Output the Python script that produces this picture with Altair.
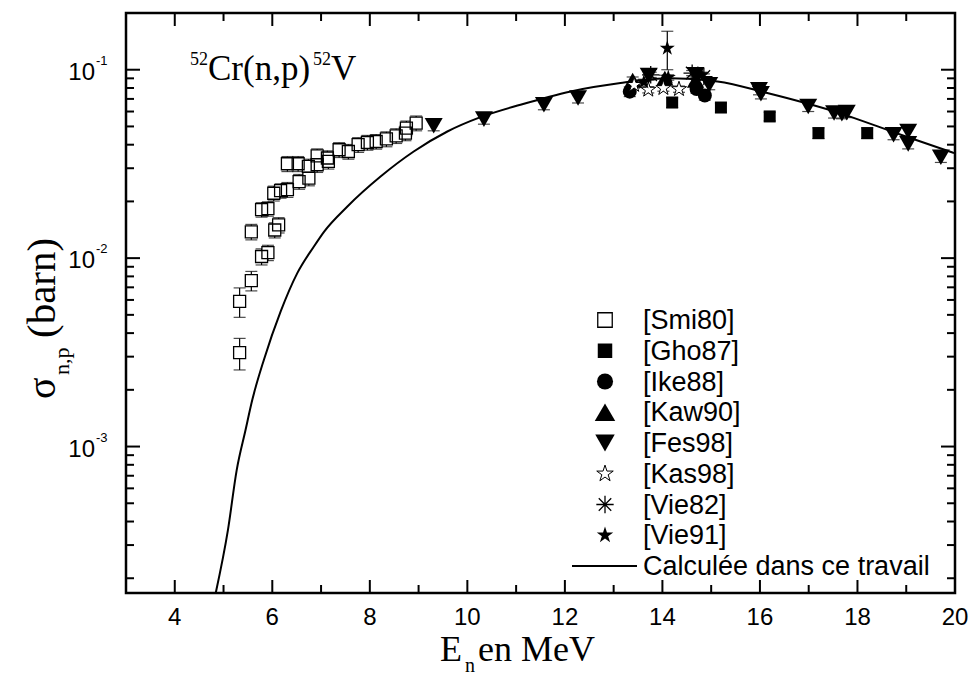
import altair as alt
import pandas as pd

# ---------------- data ----------------
smi_E = [5.33, 5.33, 5.57, 5.78, 5.91, 5.57, 6.05, 6.13, 5.78, 5.91, 6.03, 6.17, 6.31, 6.55, 6.75, 6.31,
         6.53, 6.74, 6.92, 6.92, 7.13, 7.15, 7.37, 7.56, 7.76, 7.95, 8.13, 8.34, 8.54, 8.73, 8.75, 8.95]
smi_S = [0.00315, 0.0059, 0.0076, 0.0102, 0.0107, 0.0138, 0.0141, 0.0150, 0.0181, 0.0183, 0.0221, 0.0228,
         0.0231, 0.0255, 0.0266, 0.0317, 0.0317, 0.0307, 0.0349, 0.0313, 0.0340, 0.0326, 0.0376, 0.0368,
         0.0400, 0.0411, 0.0416, 0.0429, 0.0446, 0.0461, 0.0490, 0.0521]
smi_err = [0.0006, 0.00105, 0.0009, 0.0010, 0.0010, 0.0013, 0.0013, 0.0014, 0.0016, 0.0016, 0.0020, 0.0020,
           0.0021, 0.0023, 0.0024, 0.0029, 0.0029, 0.0028, 0.0031, 0.0028, 0.0031, 0.0029, 0.0034, 0.0033,
           0.0036, 0.0037, 0.0037, 0.0039, 0.0040, 0.0041, 0.0044, 0.0047]

gho_E = [14.2, 15.2, 16.2, 17.2, 18.2]
gho_S = [0.0670, 0.0630, 0.0565, 0.0461, 0.0461]
gho_err = [0.0040, 0.0035, 0.0030, 0.0030, 0.0030]

ike_E = [13.33, 14.70, 14.87]
ike_S = [0.0765, 0.0790, 0.0730]
ike_err = [0.0045, 0.0040, 0.0040]

kaw_E = [13.39, 14.05, 14.68]
kaw_S = [0.0880, 0.0900, 0.0880]
kaw_err = [0.0035, 0.0035, 0.0035]

fes_E = [9.31, 10.34, 11.57, 12.27, 13.72, 14.68, 14.96, 15.98, 16.02, 16.99, 17.52, 17.68, 17.78,
         18.74, 19.04, 19.04, 19.71]
fes_S = [0.0504, 0.0547, 0.0652, 0.0708, 0.0930, 0.0940, 0.0833, 0.0783, 0.0745, 0.0638, 0.0589, 0.0584,
         0.0592, 0.0452, 0.0470, 0.0404, 0.0343]
fes_err = [0.0030, 0.0033, 0.0039, 0.0042, 0.0050, 0.0050, 0.0050, 0.0047, 0.0045, 0.0038, 0.0035, 0.0035,
           0.0035, 0.0027, 0.0028, 0.0024, 0.0021]

kas_E = [13.42, 13.71, 14.02, 14.34]
kas_S = [0.0830, 0.0783, 0.0799, 0.0789]
kas_err = [0.0030, 0.0030, 0.0030, 0.0030]

v82_E = [13.76, 14.61, 14.85]
v82_S = [0.0940, 0.0960, 0.0920]
v82_err = [0.0030, 0.0030, 0.0030]

v91_E = [13.62, 14.10, 14.12, 14.80]
v91_S = [0.0860, 0.1300, 0.0910, 0.0940]
v91_err = [0.0030, 0.0300, 0.0030, 0.0030]

calc_E = [4.84, 5.09, 5.27, 5.45, 5.59, 5.83, 6.17, 6.51, 6.85, 7.06, 7.54, 8.22, 8.90, 9.59,
          10.27, 11.09, 12.12, 13.14, 14.17, 15.13, 16.15, 17.52, 18.89, 19.98]
calc_S = [1.67e-4, 3.6e-4, 7.5e-4, 1.22e-3, 1.77e-3, 2.9e-3, 5.2e-3, 8.3e-3, 1.15e-2, 1.38e-2,
          1.88e-2, 2.71e-2, 3.68e-2, 4.70e-2, 5.6e-2, 6.52e-2, 7.67e-2, 8.50e-2, 9.0e-2, 8.67e-2, 7.52e-2,
          6.01e-2, 4.52e-2, 3.61e-2]

series_names = ["[Smi80]", "[Gho87]", "[Ike88]", "[Kaw90]", "[Fes98]", "[Kas98]", "[Vie82]", "[Vie91]"]
curve_name = "Calculée dans ce travail"

x_tick_major = [4, 6, 8, 10, 12, 14, 16, 18]
x_tick_minor = [5, 7, 9, 11, 13, 15, 17, 19]
x_tick_labels = [4, 6, 8, 10, 12, 14, 16, 18, 20]
y_tick_major = [1e-3, 1e-2, 1e-1]
y_tick_sup = ["-3", "-2", "-1"]
y_tick_minor = [m * 10.0 ** e for e in (-4, -3, -2) for m in range(2, 10)]

# ---------------- layout ----------------
W, H = 829, 580
SANS = "Liberation Sans"
SERIF = "Liberation Serif"
xs = alt.Scale(domain=[3, 20], nice=False, zero=False)
ys = alt.Scale(type="log", domain=[1.67e-4, 0.2], nice=False)

STAR = ("M0,-1L0.2245,-0.309L0.951,-0.309L0.363,0.118L0.588,0.809L0,0.382L-0.588,0.809"
        "L-0.363,0.118L-0.951,-0.309L-0.2245,-0.309Z")
ASTER = "M0,-1L0,1M-1,0L1,0M-0.72,-0.72L0.72,0.72M-0.72,0.72L0.72,-0.72"
VBAR = "M0,-1L0,1"
HBAR = "M-1,0L1,0"


def X(f="E"):
    return alt.X(f"{f}:Q", scale=xs, axis=None)


def Y(f="S"):
    return alt.Y(f"{f}:Q", scale=ys, axis=None)


def df(E, S, err=None):
    d = pd.DataFrame({"E": E, "S": S})
    if err is not None:
        d["lo"] = [s - e for s, e in zip(S, err)]
        d["hi"] = [s + e for s, e in zip(S, err)]
    return d


layers = []

# calculated curve
layers.append(alt.Chart(df(calc_E, calc_S)).mark_line(color="black", strokeWidth=2,
                                                          interpolate="monotone").encode(x=X(), y=Y()))

all_series = [
    (smi_E, smi_S, smi_err), (gho_E, gho_S, gho_err), (ike_E, ike_S, ike_err), (kaw_E, kaw_S, kaw_err),
    (fes_E, fes_S, fes_err), (kas_E, kas_S, kas_err), (v82_E, v82_S, v82_err), (v91_E, v91_S, v91_err),
]

# error bars
for E, S, err in all_series:
    d = df(E, S, err)
    base = alt.Chart(d)
    layers.append(base.mark_rule(color="black", strokeWidth=1.2).encode(x=X(), y=Y("lo"), y2="hi:Q"))
    layers.append(base.mark_tick(orient="horizontal", size=12, thickness=1.2, color="black")
                  .encode(x=X(), y=Y("lo")))
    layers.append(base.mark_tick(orient="horizontal", size=12, thickness=1.2, color="black")
                  .encode(x=X(), y=Y("hi")))

# marker styles: (shape, kind, data size, legend size)
styles = [
    ("square", "open", 144, 210),
    ("square", "fill", 144, 210),
    ("circle", "fill", 196, 260),
    ("triangle-up", "fill", 300, 420),
    ("triangle-down", "fill", 324, 380),
    (STAR, "openstar", 250, 300),
    (ASTER, "stroke", 300, 300),
    (STAR, "fill", 250, 300),
]


def point_mark(shape, kind, size):
    if kind == "open":
        return [dict(shape=shape, filled=True, fill="white", size=size),
                dict(shape=shape, filled=False, color="black", strokeWidth=1.3, size=size)]
    if kind == "openstar":
        return [dict(shape=shape, filled=True, fill="white", stroke="black", strokeWidth=1.0, size=size)]
    if kind == "stroke":
        return [dict(shape=shape, filled=False, color="black", strokeWidth=1.3, size=size)]
    return [dict(shape=shape, filled=True, color="black", size=size)]


for (E, S, _), (shape, kind, size, _) in zip(all_series, styles):
    d = df(E, S)
    for kw in point_mark(shape, kind, size):
        layers.append(alt.Chart(d).mark_point(opacity=1, **kw).encode(x=X(), y=Y()))

# tick labels
one = pd.DataFrame({"a": [0]})
ymaj = pd.DataFrame({"v": y_tick_major, "sup": y_tick_sup})
xl = pd.DataFrame({"v": x_tick_labels, "t": [str(v) for v in x_tick_labels]})
layers.append(alt.Chart(xl).mark_text(font=SANS, fontSize=24, align="center", baseline="alphabetic",
                                      color="black")
              .encode(x=alt.X("v:Q", scale=xs, axis=None), y=alt.value(612), text="t:N"))
layers.append(alt.Chart(ymaj).mark_text(font=SANS, fontSize=24, align="right", baseline="alphabetic",
                                        dy=10, color="black")
              .encode(y=alt.Y("v:Q", scale=ys, axis=None), x=alt.value(-31), text=alt.value("10")))
layers.append(alt.Chart(ymaj).mark_text(font=SANS, fontSize=13, align="left", baseline="alphabetic",
                                        dy=-5, color="black")
              .encode(y=alt.Y("v:Q", scale=ys, axis=None), x=alt.value(-30), text="sup:N"))


def txt(s, x, y, size, font=SERIF, align="left", angle=0):
    kw = dict(font=font, fontSize=size, align=align, baseline="alphabetic", color="black")
    if angle:
        kw["angle"] = angle
    return alt.Chart(one).mark_text(**kw).encode(x=alt.value(x), y=alt.value(y), text=alt.value(s))


# axis titles
layers += [
    txt("E", 314, 648, 36),
    txt("n", 339, 659, 20),
    txt("en MeV", 352, 648, 36),
    txt("σ", -71, 386, 40, angle=270),
    txt("n,p", -57, 362, 22, angle=270),
    txt("(barn)", -71, 325, 41, angle=270),
]

# reaction label
layers += [
    txt("52", 64, 52, 18),
    txt("Cr(n,p)", 82, 67, 35),
    txt("52", 187, 52, 18),
    txt("V", 205, 67, 35),
]

# ---------------- legend ----------------
LX, LT, ROW0, STEP = 479, 517, 307, 30.75
for i, (name, (shape, kind, _, lsize)) in enumerate(zip(series_names, styles)):
    yy = ROW0 + STEP * i
    for kw in point_mark(shape, kind, lsize):
        layers.append(alt.Chart(one).mark_point(opacity=1, **kw)
                      .encode(x=alt.value(LX), y=alt.value(yy)))
    layers.append(alt.Chart(one).mark_text(font=SANS, fontSize=27, align="left", baseline="middle",
                                           color="black")
                  .encode(x=alt.value(LT), y=alt.value(yy + 1), text=alt.value(name)))
yc = ROW0 + STEP * len(series_names)
layers.append(alt.Chart(one).mark_rule(color="black", strokeWidth=2)
              .encode(x=alt.value(446), x2=alt.value(511), y=alt.value(yc)))
layers.append(alt.Chart(one).mark_text(font=SANS, fontSize=27, align="left", baseline="middle", color="black")
              .encode(x=alt.value(LT), y=alt.value(yc + 1), text=alt.value(curve_name)))

# ---------------- frame ticks (inward), drawn as line-shaped symbols ----------------
for vals, L in ((x_tick_major, 13), (x_tick_minor, 8)):
    d = pd.DataFrame({"tv": vals})
    for yy in (H - L / 2, L / 2):
        layers.append(alt.Chart(d).mark_point(shape=VBAR, filled=False, color="black", strokeWidth=2,
                                              size=L * L, opacity=1)
                      .encode(x=alt.X("tv:Q", scale=xs, axis=None), y=alt.value(yy)))
for vals, L in ((y_tick_major, 14), (y_tick_minor, 8)):
    d = pd.DataFrame({"tv": vals})
    for xx in (L / 2, W - L / 2):
        layers.append(alt.Chart(d).mark_point(shape=HBAR, filled=False, color="black", strokeWidth=2,
                                              size=L * L, opacity=1)
                      .encode(y=alt.Y("tv:Q", scale=ys, axis=None), x=alt.value(xx)))

chart = alt.layer(*layers).properties(
    width=W, height=H,
    padding={"left": 126, "top": 13, "right": 18, "bottom": 85},
    autosize=alt.AutoSizeParams(type="none"),
    background="white",
).configure_view(stroke="black", strokeWidth=2.5)

chart.save("out.html", embed_options={"renderer": "svg", "actions": False})
